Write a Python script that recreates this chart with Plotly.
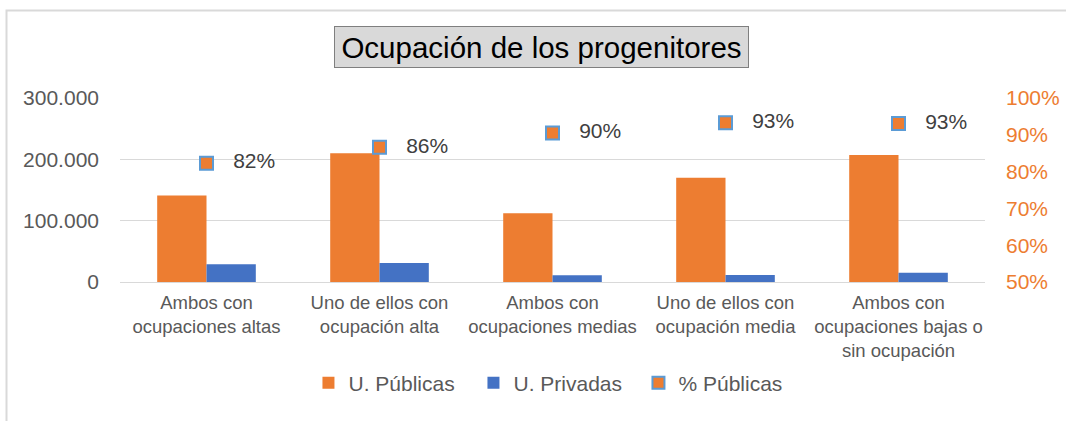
import plotly.graph_objects as go

categories = [
    "Ambos con<br>ocupaciones altas",
    "Uno de ellos con<br>ocupación alta",
    "Ambos con<br>ocupaciones medias",
    "Uno de ellos con<br>ocupación media",
    "Ambos con<br>ocupaciones bajas o<br>sin ocupación",
]
publicas = [141000, 210000, 112000, 170000, 207000]
privadas = [29000, 31000, 11000, 11500, 15000]
pct_publicas = [0.823, 0.866, 0.905, 0.933, 0.931]
pct_labels = ["82%", "86%", "90%", "93%", "93%"]

FONT = "Liberation Sans, Arial, sans-serif"
ORANGE = "#ED7D31"
BLUE = "#4472C4"

fig = go.Figure()
fig.add_trace(go.Bar(x=categories, y=publicas, name="U. Públicas",
                     marker=dict(color=ORANGE, line=dict(width=0))))
fig.add_trace(go.Bar(x=categories, y=privadas, name="U. Privadas",
                     marker=dict(color=BLUE, line=dict(width=0))))
fig.add_trace(go.Scatter(x=categories, y=pct_publicas, name="% Públicas", yaxis="y2",
                         mode="markers+text",
                         text=["   " + t for t in pct_labels],
                         textposition="middle right",
                         textfont=dict(size=21, color="#404040", family=FONT),
                         marker=dict(symbol="square", size=13, color=ORANGE,
                                     line=dict(color="#5B9BD5", width=2))))

fig.update_layout(
    width=1066, height=421,
    margin=dict(l=120, r=81, t=98, b=139, autoexpand=False),
    paper_bgcolor="white", plot_bgcolor="white",
    separators=",.",
    barmode="group", bargap=0.43, bargroupgap=0,
    font=dict(family=FONT, color="#595959"),
    showlegend=True,
    legend=dict(orientation="h", x=0.504, xanchor="center",
                yref="container", y=(421 - 383) / 421, yanchor="middle",
                font=dict(size=21, color="#595959", family=FONT),
                entrywidth=120, entrywidthmode="pixels",
                itemsizing="constant", traceorder="normal"),
    xaxis=dict(showgrid=False, showline=True, linecolor="#D9D9D9", linewidth=1,
               tickfont=dict(size=18.5, color="#595959", family=FONT),
               ticks="", ticklabelstandoff=4, automargin=False),
    yaxis=dict(range=[0, 300000], tickvals=[0, 100000, 200000, 300000],
               tickformat=",.0f", showgrid=True, gridcolor="#D9D9D9", gridwidth=1,
               zeroline=False, showline=False, automargin=False,
               tickfont=dict(size=21, color="#595959", family=FONT),
               ticks="", ticklabelstandoff=20),
    yaxis2=dict(range=[0.5, 1.0], overlaying="y", side="right",
                tickvals=[0.5, 0.6, 0.7, 0.8, 0.9, 1.0], tickformat=".0%",
                showgrid=False, zeroline=False, showline=False, automargin=False,
                tickfont=dict(size=21, color=ORANGE, family=FONT),
                ticks="", ticklabelstandoff=20),
)

fig.add_annotation(text="Ocupación de los progenitores", xref="paper", yref="paper",
                   x=(541.5 - 120) / 865, y=(282 - 47) / 184, xanchor="center", yanchor="middle",
                   showarrow=False, width=409, height=36, align="center",
                   font=dict(size=29.5, color="#000000", family=FONT),
                   bgcolor="#D9D9D9", bordercolor="#7F7F7F", borderwidth=1, borderpad=2)

fig.add_shape(type="rect", xref="paper", yref="paper",
              x0=(6.5 - 120) / 865, x1=1.2, y0=-1.0, y1=(282 - 10.5) / 184,
              line=dict(color="#D9D9D9", width=2), fillcolor="rgba(0,0,0,0)", layer="below")

fig.write_html("out.html", config={"displayModeBar": False},
               post_script="document.body.style.margin='0px';")
